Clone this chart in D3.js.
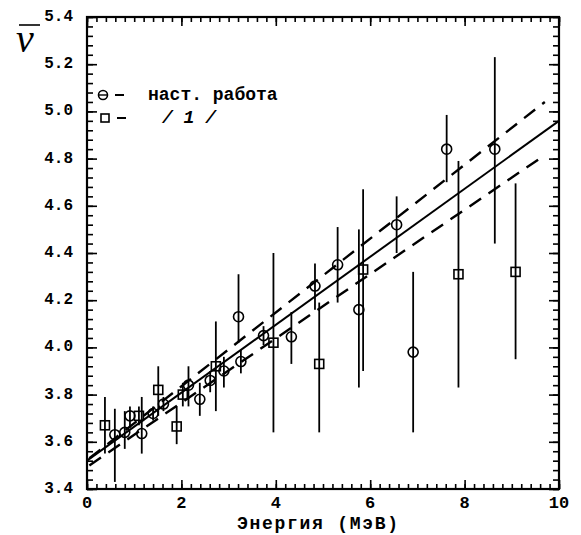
<!DOCTYPE html>
<html><head><meta charset="utf-8">
<script src="https://cdn.jsdelivr.net/npm/d3@7"></script>
<style>body{margin:0;background:#fff}</style></head>
<body>
<svg id="c" width="581" height="535"></svg>
<script>
// ---- data ----
const xTicks = [0, 2, 4, 6, 8, 10];
const xTickLabels = ["0", "2", "4", "6", "8", "10"];
const yTicks = [3.4, 3.6, 3.8, 4.0, 4.2, 4.4, 4.6, 4.8, 5.0, 5.2, 5.4];
const yTickLabels = ["3.4", "3.6", "3.8", "4.0", "4.2", "4.4", "4.6", "4.8", "5.0", "5.2", "5.4"];

// "наст. работа" (circles)
const energyNew = [0.59, 0.80, 0.91, 1.16, 1.40, 1.62, 2.15, 2.39, 2.61, 2.90, 3.21, 3.26, 3.74, 4.33, 4.83, 5.31, 5.76, 6.56, 6.91, 7.62, 8.64];
const nuNew     = [3.63, 3.64, 3.71, 3.635, 3.72, 3.76, 3.84, 3.78, 3.86, 3.90, 4.13, 3.94, 4.05, 4.045, 4.26, 4.35, 4.16, 4.52, 3.98, 4.84, 4.84];
const lowNew    = [3.43, 3.57, 3.66, 3.55, 3.69, 3.73, 3.75, 3.71, 3.81, 3.83, 4.02, 3.89, 4.01, 3.93, 4.16, 4.19, 3.83, 4.40, 3.64, 4.70, 4.44];
const highNew   = [3.74, 3.73, 3.75, 3.79, 3.75, 3.79, 3.92, 3.85, 3.90, 3.96, 4.31, 3.99, 4.09, 4.15, 4.355, 4.51, 4.50, 4.64, 4.32, 4.985, 5.23];

// "/1/" (squares)
const energyRef = [0.38, 1.10, 1.51, 1.90, 2.03, 2.73, 3.95, 4.92, 5.85, 7.87, 9.08];
const nuRef     = [3.67, 3.71, 3.82, 3.665, 3.80, 3.92, 4.02, 3.93, 4.33, 4.31, 4.32];
const lowRef    = [3.55, 3.67, 3.71, 3.59, 3.75, 3.73, 3.64, 3.64, 3.90, 3.83, 3.95];
const highRef   = [3.79, 3.75, 3.92, 3.75, 3.85, 4.11, 4.40, 4.19, 4.67, 4.79, 4.695];

// fit line and its band
const fitX = [0, 10],     fitY = [3.52, 4.96];
const upperX = [0.05, 9.7], upperY = [3.53, 5.04];
const lowerX = [0.05, 9.7], lowerY = [3.50, 4.815];

// ---- drawing ----
const svg = d3.select("#c");
const L = 87, R = 559, T = 17, B = 489;
const x = d3.scaleLinear().domain([0, 10]).range([L, R]);
const y = d3.scaleLinear().domain([3.4, 5.4]).range([B, T]);
const fontTick = "'Liberation Mono', 'DejaVu Sans Mono', monospace";

const xMinor = d3.range(0, 10.001, 0.2);
const yMinor = d3.range(3.4, 5.4001, 0.04);

function styleAxis(g) {
  g.select(".domain").remove();
  g.selectAll("line").attr("stroke", "#000").attr("stroke-width", 1.6);
}
// minor ticks (inward) on all sides
svg.append("g").attr("transform", `translate(0,${B})`)
  .call(d3.axisBottom(x).tickValues(xMinor).tickSize(-5).tickFormat("")).call(styleAxis);
svg.append("g").attr("transform", `translate(0,${T})`)
  .call(d3.axisTop(x).tickValues(xMinor).tickSize(-5).tickFormat("")).call(styleAxis);
svg.append("g").attr("transform", `translate(${L},0)`)
  .call(d3.axisLeft(y).tickValues(yMinor).tickSize(-6).tickFormat("")).call(styleAxis);
svg.append("g").attr("transform", `translate(${R},0)`)
  .call(d3.axisRight(y).tickValues(yMinor).tickSize(-6).tickFormat("")).call(styleAxis);
// major ticks
svg.append("g").attr("transform", `translate(0,${B})`)
  .call(d3.axisBottom(x).tickValues(xTicks).tickSize(-9).tickFormat("")).call(styleAxis);
svg.append("g").attr("transform", `translate(0,${T})`)
  .call(d3.axisTop(x).tickValues(xTicks).tickSize(-9).tickFormat("")).call(styleAxis);
svg.append("g").attr("transform", `translate(${L},0)`)
  .call(d3.axisLeft(y).tickValues(yTicks).tickSize(-10).tickFormat("")).call(styleAxis);
svg.append("g").attr("transform", `translate(${R},0)`)
  .call(d3.axisRight(y).tickValues(yTicks).tickSize(-10).tickFormat("")).call(styleAxis);

// frame
svg.append("rect").attr("x", L).attr("y", T).attr("width", R - L).attr("height", B - T)
  .attr("fill", "none").attr("stroke", "#000").attr("stroke-width", 2.2);

// tick labels
svg.append("g").selectAll("text").data(xTicks).join("text")
  .attr("x", d => x(d)).attr("y", B + 19)
  .attr("text-anchor", "middle").attr("font-family", fontTick).attr("font-weight", "bold")
  .attr("font-size", 17).text((d, i) => xTickLabels[i]);
svg.append("g").selectAll("text").data(yTicks).join("text")
  .attr("x", L - 14).attr("y", d => y(d) + 4)
  .attr("text-anchor", "end").attr("font-family", fontTick).attr("font-weight", "bold")
  .attr("font-size", 16).text((d, i) => yTickLabels[i]);

// axis titles
svg.append("text").attr("x", (237 + 398) / 2).attr("y", 529).attr("text-anchor", "middle")
  .attr("font-family", fontTick).attr("font-weight", "bold").attr("font-size", 18)
  .attr("textLength", 161).attr("lengthAdjust", "spacing").text("Энергия (МэВ)");
svg.append("text").attr("x", 16).attr("y", 52)
  .attr("font-family", "'Liberation Serif', serif").attr("font-style", "italic")
  .attr("font-size", 40).text("ν");
svg.append("line").attr("x1", 19).attr("x2", 40).attr("y1", 25).attr("y2", 25)
  .attr("stroke", "#000").attr("stroke-width", 1.6);

// fit lines
const line = d3.line().x(d => x(d[0])).y(d => y(d[1]));
svg.append("path").datum(d3.zip(fitX, fitY)).attr("d", line)
  .attr("fill", "none").attr("stroke", "#000").attr("stroke-width", 2);
[[upperX, upperY], [lowerX, lowerY]].forEach(([xs, ys]) => {
  svg.append("path").datum(d3.zip(xs, ys)).attr("d", line)
    .attr("fill", "none").attr("stroke", "#000").attr("stroke-width", 2.4)
    .attr("stroke-dasharray", "14,9");
});

// error bars
const errs = d3.zip(energyNew.concat(energyRef), lowNew.concat(lowRef), highNew.concat(highRef));
svg.append("g").selectAll("line").data(errs).join("line")
  .attr("x1", d => x(d[0])).attr("x2", d => x(d[0]))
  .attr("y1", d => y(d[1])).attr("y2", d => y(d[2]))
  .attr("stroke", "#000").attr("stroke-width", 1.8);

// markers
svg.append("g").selectAll("circle").data(d3.zip(energyNew, nuNew)).join("circle")
  .attr("cx", d => x(d[0])).attr("cy", d => y(d[1])).attr("r", 5)
  .attr("fill", "none").attr("stroke", "#000").attr("stroke-width", 1.6);
svg.append("g").selectAll("rect").data(d3.zip(energyRef, nuRef)).join("rect")
  .attr("x", d => x(d[0]) - 4.5).attr("y", d => y(d[1]) - 4.5)
  .attr("width", 9).attr("height", 9)
  .attr("fill", "none").attr("stroke", "#000").attr("stroke-width", 1.6);

// legend
const lg = svg.append("g");
lg.append("circle").attr("cx", 103).attr("cy", 95).attr("r", 4.5)
  .attr("fill", "none").attr("stroke", "#000").attr("stroke-width", 1.6);
lg.append("line").attr("x1", 99).attr("x2", 107).attr("y1", 95).attr("y2", 95)
  .attr("stroke", "#000").attr("stroke-width", 1.4);
lg.append("line").attr("x1", 115).attr("x2", 124).attr("y1", 95).attr("y2", 95)
  .attr("stroke", "#000").attr("stroke-width", 2);
lg.append("text").attr("x", 148).attr("y", 100).attr("font-family", fontTick)
  .attr("font-weight", "bold").attr("font-size", 18).text("наст. работа");
lg.append("rect").attr("x", 101).attr("y", 114).attr("width", 8).attr("height", 8)
  .attr("fill", "none").attr("stroke", "#000").attr("stroke-width", 1.6);
lg.append("line").attr("x1", 117).attr("x2", 126).attr("y1", 118).attr("y2", 118)
  .attr("stroke", "#000").attr("stroke-width", 2);
lg.append("text").attr("x", 162).attr("y", 123).attr("font-family", fontTick)
  .attr("font-weight", "bold").attr("font-style", "italic").attr("font-size", 18).text("/ 1 /");
</script>
</body></html>
